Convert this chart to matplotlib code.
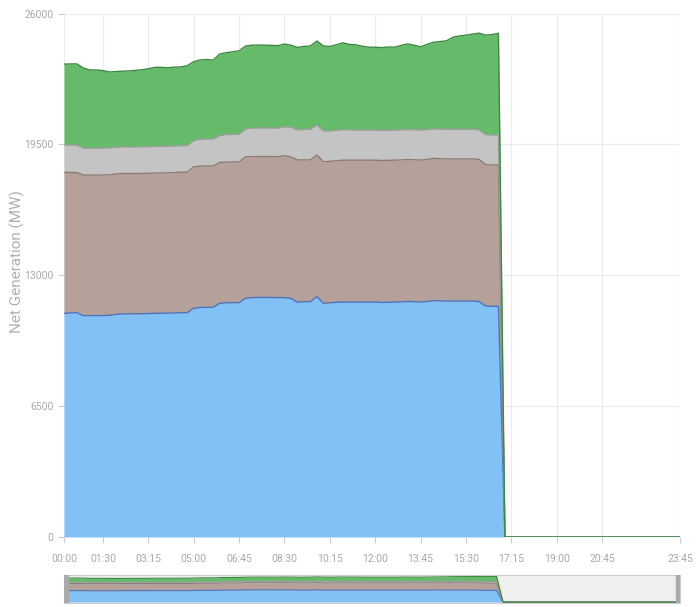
import matplotlib
matplotlib.use("Agg")
import matplotlib.pyplot as plt
from matplotlib.patches import Rectangle
import numpy as np

plt.rcParams['font.family'] = ['Roboto', 'DejaVu Sans']

# 15 minute intervals, values in MW (data stops after 16:45)
blue = [11110, 11130, 11140, 10990, 11000, 11000, 11000, 11010, 11060, 11080,
        11080, 11090, 11090, 11100, 11110, 11110, 11120, 11130, 11140, 11140,
        11360, 11400, 11410, 11410, 11610, 11630, 11640, 11640, 11860, 11890,
        11900, 11900, 11900, 11890, 11890, 11850, 11660, 11690, 11690, 11940,
        11610, 11630, 11660, 11670, 11670, 11670, 11670, 11670, 11670, 11650,
        11660, 11670, 11680, 11700, 11690, 11670, 11700, 11740, 11730, 11720,
        11720, 11720, 11720, 11720, 11700, 11480, 11460, 11460] + [0] * 28
brown = [7000, 6980, 6960, 6990, 6980, 6980, 6980, 6980, 6970, 6980,
         6970, 6970, 6970, 6970, 6970, 6970, 6970, 6970, 6980, 6980,
         7030, 7020, 7020, 7020, 7000, 6990, 6990, 6990, 7030, 7000,
         7000, 7000, 7000, 7000, 7050, 7030, 7070, 7040, 7040, 7040,
         7030, 7030, 7030, 7050, 7050, 7050, 7050, 7050, 7050, 7050,
         7050, 7050, 7050, 7050, 7050, 7050, 7050, 7070, 7060, 7060,
         7060, 7060, 7060, 7060, 7060, 7020, 7020, 7020] + [0] * 28
gray = [1360, 1370, 1350, 1340, 1330, 1340, 1340, 1340, 1330, 1320,
        1320, 1320, 1320, 1320, 1320, 1320, 1320, 1320, 1320, 1320,
        1300, 1340, 1340, 1340, 1330, 1370, 1370, 1370, 1380, 1420,
        1420, 1420, 1420, 1420, 1440, 1480, 1490, 1520, 1520, 1490,
        1540, 1510, 1510, 1510, 1510, 1490, 1490, 1490, 1490, 1490,
        1490, 1490, 1490, 1490, 1490, 1490, 1490, 1460, 1470, 1470,
        1470, 1470, 1470, 1470, 1470, 1490, 1490, 1490] + [0] * 28
green = [4020, 4020, 4050, 3970, 3890, 3880, 3850, 3770, 3760, 3760,
         3780, 3800, 3830, 3870, 3930, 3930, 3900, 3920, 3910, 3970,
         3920, 3940, 3950, 3920, 4050, 4070, 4100, 4150, 4120, 4120,
         4120, 4110, 4100, 4100, 4110, 4070, 4100, 4120, 4140, 4170,
         4210, 4200, 4250, 4320, 4240, 4240, 4170, 4120, 4120, 4120,
         4140, 4120, 4200, 4250, 4200, 4140, 4230, 4310, 4350, 4400,
         4580, 4640, 4680, 4730, 4800, 4940, 4990, 5050] + [0] * 28

tick_labels = ["00:00", "01:30", "03:15", "05:00", "06:45", "08:30", "10:15",
               "12:00", "13:45", "15:30", "17:15", "19:00", "20:45", "23:45"]
y_ticks = [0, 6500, 13000, 19500, 26000]

fills = ["#81C1F5", "#B5A19A", "#C4C4C4", "#66BB6A"]
edges = ["#4A74C0", "#8C7A74", "#9E9E9E", "#3C8A40"]

x = np.arange(len(blue))
stack = np.cumsum([blue, brown, gray, green], axis=0)
tick_pos = [int(t[:2]) * 4 + int(t[3:]) // 15 for t in tick_labels]

fig = plt.figure(figsize=(7, 6.07), dpi=100)
ax = fig.add_axes([64 / 700, 70 / 607, 616 / 700, 523.4 / 607])

lower = np.zeros(len(x))
for i in range(4):
    ax.fill_between(x, lower, stack[i], color=fills[i], lw=0, zorder=2)
    ax.plot(x, stack[i], color=edges[i], lw=1, zorder=3)
    lower = stack[i]

ax.set_xlim(0, 95)
ax.set_ylim(0, 26000)
ax.set_xticks(tick_pos)
ax.set_xticklabels(tick_labels)
ax.set_yticks(y_ticks)
ax.grid(True, color="#ebebeb", lw=0.8, zorder=0)
for s in ax.spines.values():
    s.set_visible(False)
ax.tick_params(axis="both", colors="#cccccc", labelcolor="#a8a8a8", labelsize=7.5, length=4, width=0.8)
ax.tick_params(axis="x", pad=8)
fig.text(17 / 700, 1 - 262 / 607, "Net Generation (MW)", rotation=90, ha="center", va="center",
         color="#b0b0b0", fontsize=11)

# navigator
nav = fig.add_axes([64 / 700, 4 / 607, 616 / 700, 28 / 607])
nav.set_facecolor("#efefef")
lower = np.zeros(len(x))
for i in range(4):
    nav.fill_between(x, lower, stack[i], color=fills[i], lw=0, zorder=2)
    nav.plot(x, stack[i], color=edges[i], lw=0.8, zorder=3)
    lower = stack[i]
nav.set_xlim(-0.7, 95.7)
nav.set_ylim(-1000, 26500)
nav.set_xticks([])
nav.set_yticks([])
for s in nav.spines.values():
    s.set_color("#cccccc")
for hx in [0, 1 - 4 / 616]:
    nav.add_patch(Rectangle((hx, 0), 4 / 616, 1, transform=nav.transAxes, color="#aaaaaa", zorder=5))

fig.savefig("out.png", dpi=100)
